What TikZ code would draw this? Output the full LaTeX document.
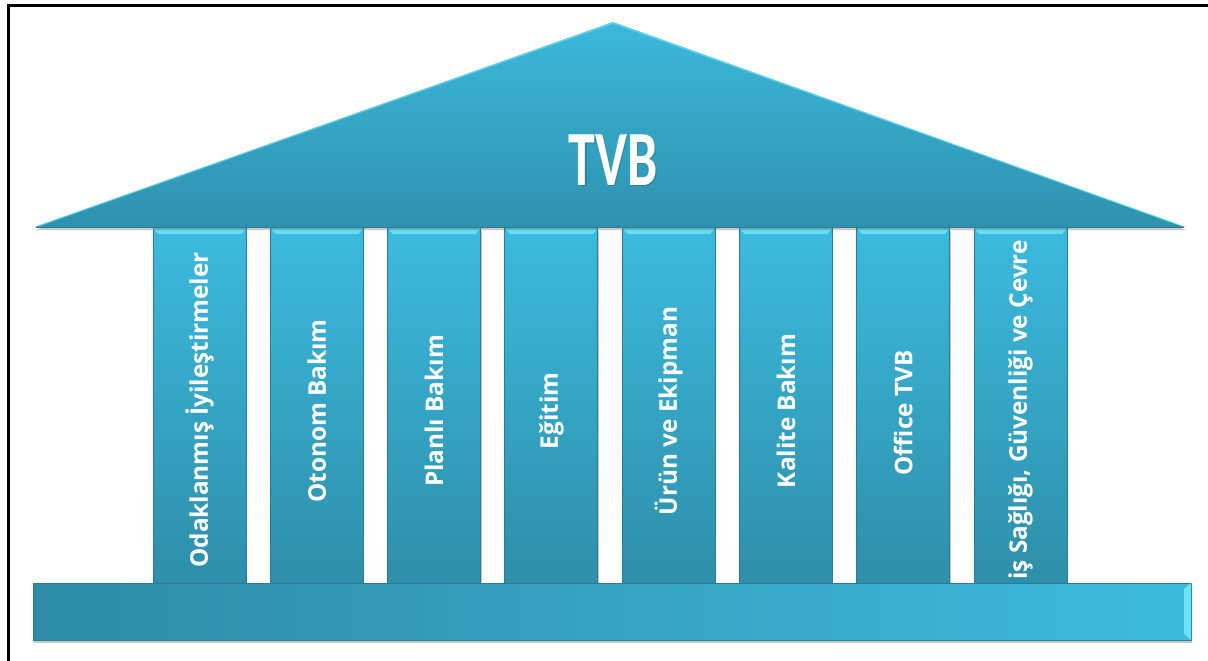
\documentclass[tikz,border=0pt]{standalone}
\usepackage{fontspec}
\setmainfont{Open Sans}
\newfontfamily\tvbfont{Carlito}
\usetikzlibrary{shadows}
\definecolor{roofTop}{HTML}{3CB8DC}
\definecolor{roofBot}{HTML}{2E92AE}
\definecolor{pilTop}{HTML}{3CBADF}
\definecolor{pilBot}{HTML}{2D8EA8}
\definecolor{baseL}{HTML}{2E8CA6}
\definecolor{baseR}{HTML}{3DBADE}
\definecolor{bevel}{HTML}{6DE2F7}
\definecolor{edgeDark}{HTML}{2A7C92}
\tikzset{
  softshadow/.style={drop shadow={opacity=0.3, shadow xshift=1pt, shadow yshift=-3pt, fill=black!70}},
  roofshape/.style={top color=roofTop, bottom color=roofBot, softshadow},
  pilshape/.style={top color=pilTop, bottom color=pilBot, draw=edgeDark, line width=1pt, softshadow},
  baseshape/.style={left color=baseL, right color=baseR, draw=edgeDark, line width=0.8pt, softshadow},
  beveltop/.style={fill=bevel, opacity=0.9},
  piltext/.style={rotate=90, text=white, font=\fontsize{24.3}{24}\selectfont\bfseries, inner sep=0pt},
  tvbtext/.style={font=\tvbfont\fontsize{54}{54}\selectfont\bfseries, inner sep=0pt},
  frameline/.style={line width=3pt, black}
}
\begin{document}
\begin{tikzpicture}[x=1pt,y=-1pt]
\useasboundingbox (0,0) rectangle (1208,661);
\fill[white] (0,0) rectangle (1208,661);
% frame
\draw[frameline] (8,670) -- (8,6) -- (1215,6);
% pillars
\foreach \i in {0,...,7}{
  \pgfmathsetmacro{\xl}{153+117.29*\i}
  \pgfmathsetmacro{\xr}{\xl+93}
  \path[pilshape] (\xl,228) rectangle (\xr,590);
  \fill[beveltop] (\xl,228) -- (\xr,228) -- (\xr-5,234) -- (\xl+5,234) -- cycle;
}
% pillar texts
\node[piltext] (t1) at (199.5,410) {Odaklanmış İyileştirmeler};
\node[piltext] (t2) at (316.8,411) {Otonom Bakım};
\node[piltext] (t3) at (434.1,411) {Planlı Bakım};
\node[piltext] (t4) at (551.4,411) {Eğitim};
\node[piltext] (t5) at (668.7,411) {Ürün ve Ekipman};
\node[piltext] (t6) at (785.9,411) {Kalite Bakım};
\node[piltext] (t7) at (903.2,413) {Office TVB};
\node[piltext] (t8) at (1020.5,410) {iş Sağlığı, Güvenliği ve Çevre};
% roof
\path[roofshape] (35,227) -- (613,22) -- (1185,227) -- cycle;
\draw[bevel, line width=1.2pt, opacity=0.7] (38,226) -- (613,23) -- (1182,226);
\draw[edgeDark, line width=1pt] (36,227) -- (1184,227);
% TVB
\node[tvbtext, text=black, opacity=0.15] at (614.5,161.5) {\scalebox{1}[1.45]{TVB}};
\node[tvbtext, text=white] (tvb) at (613,160) {\scalebox{1}[1.45]{TVB}};
% base
\path[baseshape] (33,583) rectangle (1191,640);
\fill[bevel] (1184,589) -- (1191,583) -- (1191,640) -- (1184,634) -- cycle;
\end{tikzpicture}
\end{document}
